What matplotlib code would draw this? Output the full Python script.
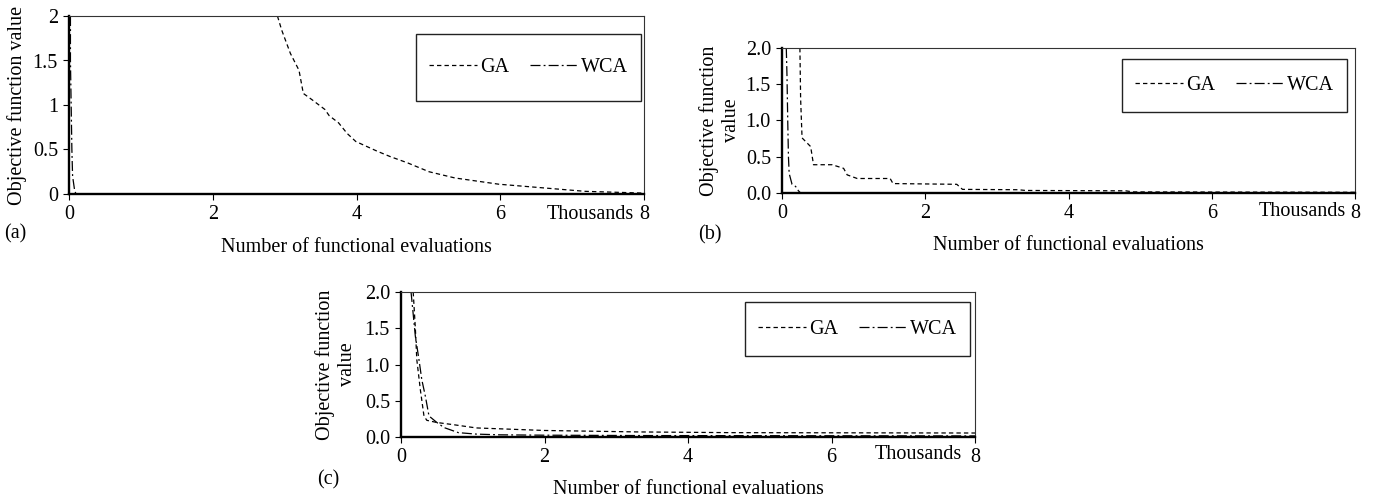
import matplotlib
matplotlib.use("Agg")
import matplotlib.pyplot as plt
from matplotlib.patches import Rectangle

plt.rcParams['font.family'] = 'Liberation Serif'

W, H = 1377, 498

# x values are functional evaluations in thousands
a_ga_x = [2.90, 2.96, 3.08, 3.20, 3.26, 3.38, 3.56, 3.62, 3.75, 3.87, 3.99, 4.29,
          4.47, 4.71, 5.01, 5.37, 5.98, 6.58, 7.18, 8.00]
a_ga_y = [2.00, 1.84, 1.58, 1.39, 1.13, 1.06, 0.95, 0.88, 0.80, 0.68, 0.59, 0.48,
          0.42, 0.35, 0.25, 0.18, 0.11, 0.07, 0.03, 0.01]
a_wca_x = [0.02, 0.02, 0.03, 0.04, 0.05, 0.08, 0.10, 8.00]
a_wca_y = [2.00, 1.50, 1.00, 0.50, 0.20, 0.03, 0.00, 0.00]

b_ga_x = [0.25, 0.26, 0.28, 0.35, 0.40, 0.44, 0.70, 0.86, 0.91, 1.05, 1.51, 1.55,
          2.44, 2.52, 3.30, 3.40, 4.80, 4.90, 8.00]
b_ga_y = [2.00, 1.30, 0.76, 0.69, 0.64, 0.39, 0.39, 0.34, 0.25, 0.20, 0.20, 0.13,
          0.12, 0.05, 0.045, 0.035, 0.03, 0.015, 0.01]
b_wca_x = [0.06, 0.07, 0.08, 0.09, 0.10, 0.14, 0.19, 0.23, 0.26, 8.00]
b_wca_y = [2.00, 1.60, 1.00, 0.50, 0.27, 0.12, 0.09, 0.03, 0.00, 0.00]

c_ga_x = [0.17, 0.20, 0.22, 0.27, 0.32, 0.36, 0.50, 0.73, 1.05, 2.00, 3.30, 4.60, 8.00]
c_ga_y = [2.00, 1.50, 1.07, 0.65, 0.29, 0.23, 0.20, 0.17, 0.125, 0.09, 0.07, 0.06, 0.055]
c_wca_x = [0.14, 0.20, 0.25, 0.29, 0.34, 0.39, 0.50, 0.60, 0.80, 1.05, 1.37, 2.00,
           3.30, 8.00]
c_wca_y = [2.00, 1.39, 1.07, 0.79, 0.56, 0.29, 0.20, 0.13, 0.06, 0.04, 0.03, 0.025,
           0.02, 0.015]

x_ticks = [0, 2, 4, 6, 8]
y_ticks = [0, 0.5, 1, 1.5, 2]
y_labels_a = ["0", "0.5", "1", "1.5", "2"]
y_labels_bc = ["0.0", "0.5", "1.0", "1.5", "2.0"]

FS = 14.5


def px(x, y):
    "pixel (from top left) to figure fraction"
    return x / W, 1 - y / H


def make_panel(fig, box, ga, wca, ylabels, ylab, ylab_x, legbox, tag, tag_xy,
               xlab_y, thous_xy):
    left, right, top, bottom = box
    ax = fig.add_axes([left / W, 1 - bottom / H, (right - left) / W, (bottom - top) / H])
    ax.plot(ga[0], ga[1], color='black', lw=0.9, dashes=(3.5, 2.5), label='GA')
    ax.plot(wca[0], wca[1], color='black', lw=0.9, dashes=(8, 2.5, 1.5, 2.5), label='WCA')
    ax.set_xlim(0, 8)
    ax.set_ylim(0, 2)
    ax.set_xticks(x_ticks)
    ax.set_xticklabels([str(t) for t in x_ticks])
    ax.set_yticks(y_ticks)
    ax.set_yticklabels(ylabels)
    ax.tick_params(direction='out', length=4, width=0.8, labelsize=FS, pad=4)
    for s in ['left', 'bottom']:
        ax.spines[s].set_linewidth(1.7)
    for s in ['top', 'right']:
        ax.spines[s].set_linewidth(0.8)
        ax.spines[s].set_color('#333333')

    # y label
    fig.text(*px(ylab_x, (top + bottom) / 2), ylab, rotation=90, ha='center',
             va='center', fontsize=FS, linespacing=1.15, multialignment='center')
    # x label, panel tag, "Thousands"
    fig.text(*px((left + right) / 2, xlab_y), "Number of functional evaluations",
             ha='center', va='center', fontsize=FS)
    fig.text(*px(*tag_xy), tag, ha='center', va='center', fontsize=FS)
    fig.text(*px(*thous_xy), "Thousands", ha='right', va='center', fontsize=FS)

    # legend in a fixed box
    lx0, lx1, ly0, ly1 = legbox
    fig.patches.append(Rectangle(px(lx0, ly1), (lx1 - lx0) / W, (ly1 - ly0) / H,
                                 transform=fig.transFigure, fill=False,
                                 edgecolor='#222222', lw=1.0))
    ax.legend(loc='center', bbox_to_anchor=px((lx0 + lx1) / 2, (ly0 + ly1) / 2),
              bbox_transform=fig.transFigure, frameon=False, ncol=2, fontsize=FS,
              handlelength=2.4, handletextpad=0.15, columnspacing=1.0)
    return ax


fig = plt.figure(figsize=(W / 100, H / 100), dpi=100)

make_panel(fig, (69, 644, 16, 194), (a_ga_x, a_ga_y), (a_wca_x, a_wca_y),
           y_labels_a, "Objective function value", 17, (416, 641, 34, 101),
           "(a)", (15, 234), 247, (634, 214))
make_panel(fig, (782, 1355, 48, 193), (b_ga_x, b_ga_y), (b_wca_x, b_wca_y),
           y_labels_bc, "Objective function\nvalue", 720, (1122, 1347, 59, 112),
           "(b)", (710, 235), 246, (1346, 212))
make_panel(fig, (401, 975, 292, 437), (c_ga_x, c_ga_y), (c_wca_x, c_wca_y),
           y_labels_bc, "Objective function\nvalue", 336, (745, 970, 302, 356),
           "(c)", (328, 480), 489, (962, 454))

fig.savefig("out.png", dpi=100)
